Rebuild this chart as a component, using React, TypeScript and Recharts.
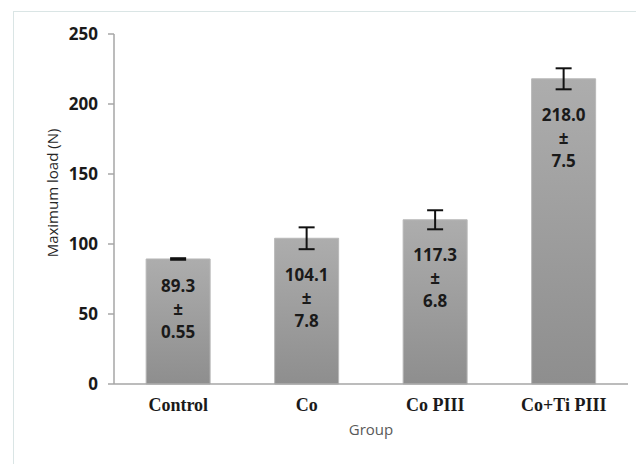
import React from 'react';
import { BarChart, Bar, XAxis, YAxis, ErrorBar, LabelList } from 'recharts';

const groups = ['Control', 'Co', 'Co PIII', 'Co+Ti PIII'];
const maxLoad = [89.3, 104.1, 117.3, 218.0];
const sdValues = [0.55, 7.8, 6.8, 7.5];
const meanLabels = ['89.3', '104.1', '117.3', '218.0'];
const sdLabels = ['0.55', '7.8', '6.8', '7.5'];
const yTicks = [0, 50, 100, 150, 200, 250];
const boundaryTicks = [0, 1, 2, 3, 4];

const data = groups.map((g, i) => ({ group: g, load: maxLoad[i], sd: sdValues[i] }));

const SANS = 'Open Sans';
const SERIF = 'Liberation Serif';

const BarText = (props: any) => {
  const { x, y, width, height } = props;
  let index = props.index;
  if (index === undefined || index === null) index = maxLoad.indexOf(props.value);
  const v = maxLoad[index];
  const e = sdValues[index];
  const ppu = height / v;
  const cx = x + width / 2;
  const top = y + e * ppu + 26;
  const lines = [meanLabels[index], '±', sdLabels[index]];
  return (
    <g>
      {lines.map((t, k) => (
        <text
          key={k}
          x={cx}
          y={top + k * 23}
          dy="0.35em"
          textAnchor="middle"
          fontFamily={SANS}
          fontWeight={700}
          fontSize={17}
          fill="#1a1a1a"
        >
          {t}
        </text>
      ))}
    </g>
  );
};

const CatTick = (props: any) => {
  const { x, y, payload } = props;
  return (
    <text x={x} y={y} dy={21} textAnchor="middle" fontFamily={SERIF} fontWeight={700} fontSize={18} fill="#1a1a1a">
      {payload.value}
    </text>
  );
};

const YTick = (props: any) => {
  const { x, y, payload } = props;
  return (
    <text x={x} y={y} dy="0.35em" textAnchor="end" fontFamily={SANS} fontWeight={700} fontSize={17} fill="#1a1a1a">
      {payload.value}
    </text>
  );
};

const YLabel = (props: any) => {
  const vb = props.viewBox || {};
  const cx = 53;
  const cy = (vb.y ?? 34) + (vb.height ?? 350) / 2 - 16;
  return (
    <text
      x={cx}
      y={cy}
      dy="0.35em"
      transform={`rotate(-90, ${cx}, ${cy})`}
      textAnchor="middle"
      fontFamily={SANS}
      fontSize={15}
      fill="#262626"
    >
      Maximum load (N)
    </text>
  );
};

const XLabel = (props: any) => {
  const vb = props.viewBox || {};
  const cx = (vb.x ?? 114) + (vb.width ?? 514) / 2;
  const cy = (vb.y ?? 390) + 40;
  return (
    <text x={cx} y={cy} dy="0.35em" textAnchor="middle" fontFamily={SANS} fontSize={15} fill="#595959">
      Group
    </text>
  );
};

export default function App() {
  return (
    <div style={{ position: 'absolute', left: 0, top: 0, width: 636, height: 464, overflow: 'hidden', background: '#ffffff' }}>
      <div
        style={{
          position: 'absolute',
          left: 13,
          top: 11,
          width: 660,
          height: 480,
          border: '1px solid #dae5e5',
        }}
      />
      <div style={{ position: 'absolute', left: 0, top: 0 }}>
        <BarChart width={636} height={464} data={data} margin={{ top: 34, right: 8, left: 0, bottom: 0 }} barCategoryGap="25%">
          <defs>
            <linearGradient id="barGrad" x1="0" y1="0" x2="0" y2="1">
              <stop offset="0%" stopColor="#adadad" />
              <stop offset="100%" stopColor="#8e8e8e" />
            </linearGradient>
          </defs>
          <XAxis
            xAxisId="bounds"
            type="number"
            domain={[0, 4]}
            ticks={boundaryTicks}
            allowDataOverflow
            height={6}
            tick={false}
            tickSize={5}
            axisLine={{ stroke: '#a6a6a6', strokeWidth: 1.5 }}
            tickLine={{ stroke: '#a6a6a6', strokeWidth: 1.5 }}
          />
          <XAxis
            xAxisId="cat"
            dataKey="group"
            type="category"
            height={74}
            axisLine={false}
            tickLine={false}
            tickSize={0}
            tickMargin={0}
            tick={<CatTick />}
            interval={0}
            label={<XLabel />}
          />
          <YAxis
            domain={[0, 250]}
            ticks={yTicks}
            width={114}
            tickSize={6}
            tickMargin={10}
            axisLine={{ stroke: '#a6a6a6', strokeWidth: 1.5 }}
            tickLine={{ stroke: '#a6a6a6', strokeWidth: 1.5 }}
            tick={<YTick />}
            label={<YLabel />}
          />
          <Bar xAxisId="cat" dataKey="load" fill="url(#barGrad)" stroke="#b8b8b8" strokeWidth={1} isAnimationActive={false}>
            <ErrorBar dataKey="sd" width={8} strokeWidth={2} stroke="#111111" direction="y" />
            <LabelList dataKey="load" content={<BarText />} />
          </Bar>
        </BarChart>
      </div>
    </div>
  );
}
